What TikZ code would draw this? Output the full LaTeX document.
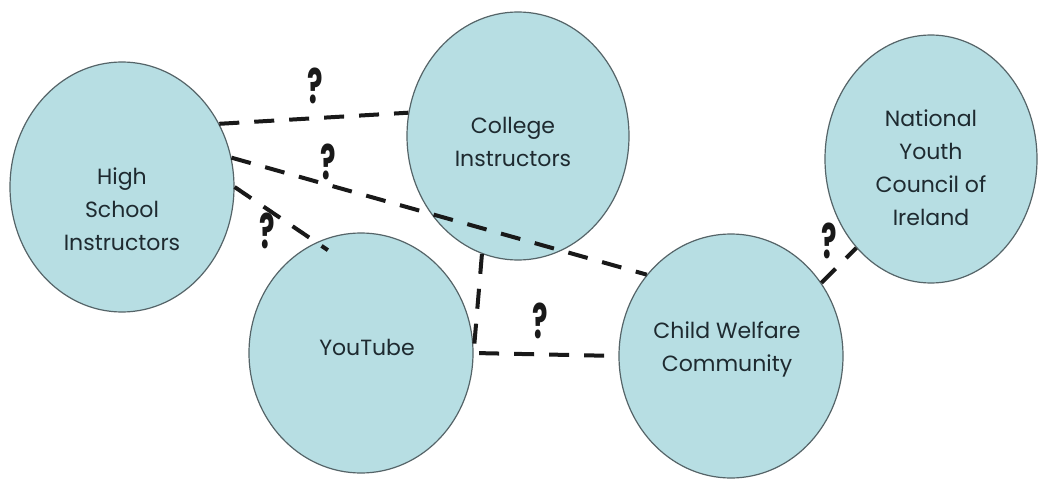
\documentclass[tikz,border=0pt]{standalone}
\usepackage{fontspec}
\setmainfont{Poppins}
\usetikzlibrary{shapes.geometric}
\definecolor{fillcol}{RGB}{183,222,227}
\definecolor{bordercol}{RGB}{85,100,104}
\definecolor{textcol}{RGB}{30,42,48}
\definecolor{linecol}{RGB}{25,25,25}
\begin{document}
\begin{tikzpicture}[x=0.5pt,y=-0.5pt,
  ell/.style={ellipse, draw=bordercol, fill=fillcol, line width=0.6pt, inner sep=0pt},
  lab/.style={align=center, text=textcol, font=\fontsize{11}{16.5}\selectfont, inner sep=0pt},
  link/.style={draw=linecol, line width=2pt, dash pattern=on 10pt off 7.5pt},
  qm/.style={text=linecol, font=\fontsize{24}{24}\selectfont\bfseries, xscale=0.6, inner sep=0pt}]
\useasboundingbox[fill=white] (0,0) rectangle (1039,481);
% ellipses
\node[ell, minimum width=112pt, minimum height=125pt] (hs) at (122,187) {};
\node[ell, minimum width=111pt, minimum height=124pt] (cl) at (518,136) {};
\node[ell, minimum width=112pt, minimum height=120pt] (yt) at (361,353) {};
\node[ell, minimum width=112pt, minimum height=122pt] (cw) at (731,356) {};
\node[ell, minimum width=106pt, minimum height=124pt] (ny) at (931,159) {};
% connectors
\draw[link] (hs.33) -- (cl.168);
\draw[link] (hs.15) -- (cw.136);
\draw[link, shorten >=-7pt] (hs.east) -- (yt.112);
\draw[link] (cl.253) -- (yt.east) -- (cw.west);
\draw[link] (cw.39) -- (ny.230);
% labels
\node[lab] (hst) at (122,209) {High\\School\\Instructors};
\node[lab] (clt) at (513,142) {College\\Instructors};
\node[lab] (ytt) at (367,347) {YouTube};
\node[lab] (cwt) at (727,349) {Child Welfare\\Community};
\node[lab] (nyt) at (931,168) {National\\Youth\\Council of\\Ireland};
% question marks
\node[qm] (q1) at (315,86) {?};
\node[qm] (q2) at (328,162) {?};
\node[qm] (q3) at (267,231) {?};
\node[qm] (q4) at (540,321) {?};
\node[qm] (q5) at (829,241) {?};
\end{tikzpicture}
\end{document}
